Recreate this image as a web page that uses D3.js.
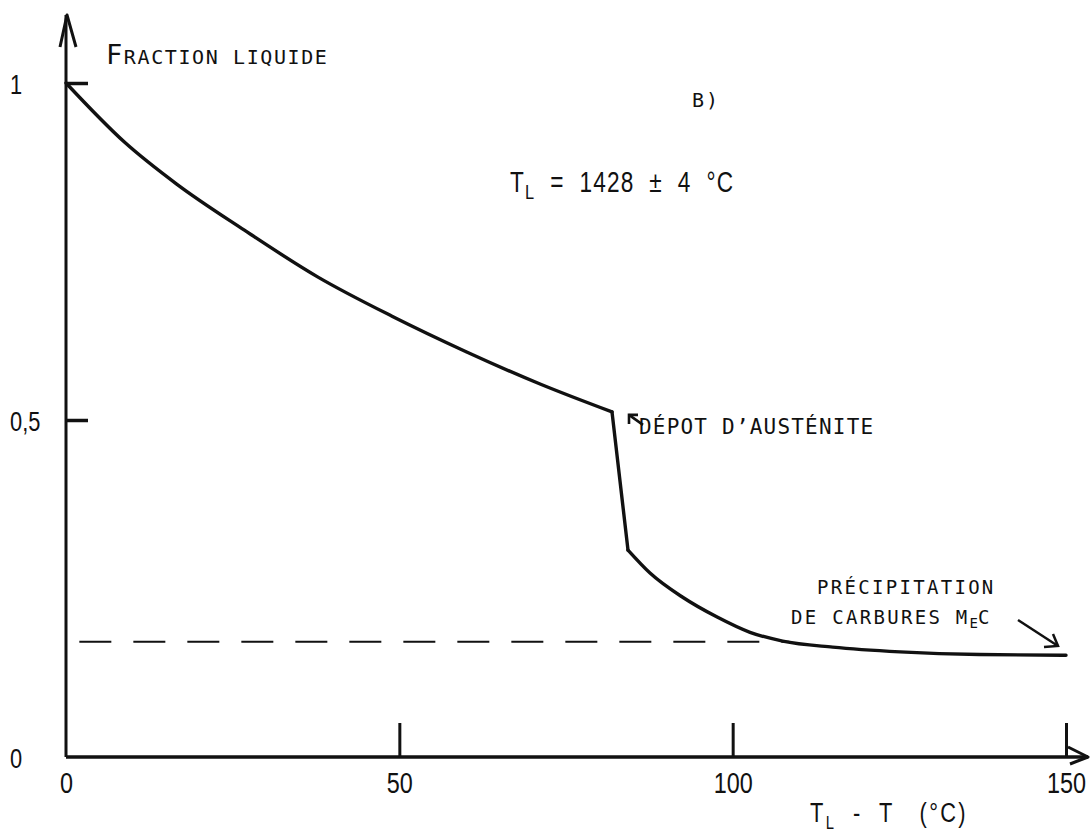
<!DOCTYPE html>
<html>
<head>
<meta charset="utf-8">
<script src="https://cdn.jsdelivr.net/npm/d3@7/dist/d3.min.js"></script>
<style>
  html, body { margin: 0; padding: 0; background: #fff; }
  svg { display: block; }
  .num { font-family: "Liberation Sans", Arial, sans-serif; fill: #111; }
  .mono { font-family: "DejaVu Sans Mono", "Liberation Mono", monospace; fill: #111; }
</style>
</head>
<body>
<svg id="chart" width="1090" height="834"></svg>
<script>
// ---- data ----
const upperX = [0, 8.8, 16.6, 26.7, 37.8, 48.9, 60.1, 71.2, 81.9];
const upperY = [1.0, 0.912, 0.850, 0.782, 0.712, 0.654, 0.601, 0.553, 0.512];
const dropX = [81.9, 84.3];
const dropY = [0.512, 0.307];
const lowerX = [84.3, 87.6, 92.5, 97.6, 102.6, 107.5, 115.0, 125.1, 137.0, 150.0];
const lowerY = [0.307, 0.273, 0.237, 0.208, 0.185, 0.172, 0.163, 0.156, 0.152, 0.151];
const dashedX = [2, 108.5];
const dashedY = [0.171, 0.171];
const xTicks = [0, 50, 100, 150];
const xTickLabels = ["0", "50", "100", "150"];
const yTicks = [0, 0.5, 1];
const yTickLabels = ["0", "0,5", "1"];

const svg = d3.select("#chart");
const x = d3.scaleLinear().domain([0, 150]).range([66, 1066]);
const y = d3.scaleLinear().domain([0, 1]).range([757, 83]);

const ink = "#111";
const sx = 0.78;

// ---- axes lines with arrows ----
svg.append("line").attr("x1", x(0)).attr("y1", y(0)).attr("x2", x(0)).attr("y2", y(1) - 68)
  .attr("stroke", ink).attr("stroke-width", 3);
svg.append("path")
  .attr("d", `M${x(0) - 6},${y(1) - 36} L${x(0) + 1},${y(1) - 68} L${x(0) + 10},${y(1) - 36}`)
  .attr("fill", "none").attr("stroke", ink).attr("stroke-width", 3).attr("stroke-linejoin", "round");

svg.append("line").attr("x1", x(0)).attr("y1", y(0)).attr("x2", x(150) + 22).attr("y2", y(0))
  .attr("stroke", ink).attr("stroke-width", 3.5);
svg.append("path")
  .attr("d", `M${x(150) + 2},${y(0) - 10} L${x(150) + 22},${y(0)} L${x(150) + 4},${y(0) + 7}`)
  .attr("fill", "none").attr("stroke", ink).attr("stroke-width", 3).attr("stroke-linejoin", "round");

// ---- x axis ticks ----
const xAxis = d3.axisBottom(x).tickValues(xTicks)
  .tickFormat((d, i) => xTickLabels[i]).tickSizeInner(-34).tickSizeOuter(0).tickPadding(14);
const gx = svg.append("g").attr("transform", `translate(0,${y(0)})`).call(xAxis);
gx.select(".domain").remove();
gx.selectAll(".tick line").attr("stroke", ink).attr("stroke-width", 3)
  .attr("opacity", d => d === 0 ? 0 : 1);
gx.selectAll(".tick text").attr("class", "num").attr("font-size", 30).attr("fill", ink)
  .attr("font-family", null).attr("dy", "0.72em").attr("transform", `scale(${sx},1)`);

// ---- y axis ticks ----
const yAxis = d3.axisLeft(y).tickValues(yTicks)
  .tickFormat((d, i) => yTickLabels[i]).tickSizeInner(-22).tickSizeOuter(0);
const gy = svg.append("g").attr("transform", `translate(${x(0)},0)`).call(yAxis);
gy.select(".domain").remove();
gy.selectAll(".tick line").attr("stroke", ink).attr("stroke-width", 3.5)
  .attr("opacity", d => d === 0 ? 0 : 1);
gy.selectAll(".tick text").attr("class", "num").attr("font-size", 28).attr("fill", ink)
  .attr("font-family", null).attr("text-anchor", "start").attr("x", -56 / sx).attr("dy", "0.36em")
  .attr("transform", `scale(${sx},1)`);

// ---- dashed line ----
svg.append("path")
  .datum(dashedX.map((d, i) => [d, dashedY[i]]))
  .attr("d", d3.line().x(d => x(d[0])).y(d => y(d[1])))
  .attr("fill", "none").attr("stroke", ink).attr("stroke-width", 2)
  .attr("stroke-dasharray", "32,22");

// ---- main curve (three pieces) ----
const segs = [[upperX, upperY, d3.curveMonotoneX], [dropX, dropY, d3.curveLinear], [lowerX, lowerY, d3.curveMonotoneX]];
segs.forEach(([xs, ys, c]) => {
  svg.append("path")
    .datum(xs.map((d, i) => [d, ys[i]]))
    .attr("d", d3.line().x(d => x(d[0])).y(d => y(d[1])).curve(c))
    .attr("fill", "none").attr("stroke", ink).attr("stroke-width", 3.4)
    .attr("stroke-linejoin", "round").attr("stroke-linecap", "round");
});

// ---- texts ----
const t1 = svg.append("text").attr("class", "mono").attr("x", 106).attr("y", 64).attr("letter-spacing", 1.6);
t1.append("tspan").attr("font-size", 27).text("F");
t1.append("tspan").attr("font-size", 20).text("RACTION LIQUIDE");

svg.append("text").attr("class", "mono").attr("x", 692).attr("y", 107).attr("font-size", 20)
  .attr("letter-spacing", 2).text("B)");

const tl = svg.append("text").attr("class", "num").attr("transform", `translate(510,192) scale(${sx},1)`)
  .attr("font-size", 29).attr("letter-spacing", 1.5).attr("xml:space", "preserve");
tl.append("tspan").text("T");
tl.append("tspan").attr("font-size", 21).attr("dy", 7).text("L");
tl.append("tspan").attr("dy", -7).text("  =  1428  ±  4  °C");

// arrow for Dépôt
const kx = x(84.3), ky = y(0.512);
svg.append("path")
  .attr("d", `M${kx + 15},${ky + 13} L${kx + 1},${ky + 3}`)
  .attr("stroke", ink).attr("stroke-width", 2.6).attr("fill", "none");
svg.append("path")
  .attr("d", `M${kx + 1},${ky + 12} L${kx + 1},${ky + 3} L${kx + 10},${ky + 3}`)
  .attr("stroke", ink).attr("stroke-width", 2.6).attr("fill", "none");
svg.append("text").attr("class", "mono").attr("x", 639).attr("y", 434).attr("font-size", 21)
  .attr("letter-spacing", 1.2).text("DÉPOT D’AUSTÉNITE");

svg.append("text").attr("class", "mono").attr("x", 817).attr("y", 594).attr("font-size", 19)
  .attr("letter-spacing", 2.3).text("PRÉCIPITATION");
const t2 = svg.append("text").attr("class", "mono").attr("x", 791).attr("y", 624).attr("font-size", 19)
  .attr("letter-spacing", 2.3);
t2.append("tspan").text("DE CARBURES M");
t2.append("tspan").attr("font-size", 14).attr("dy", 4).attr("letter-spacing", 0).text("E");
t2.append("tspan").attr("dy", -4).text("C");

// arrow for precipitation
svg.append("path")
  .attr("d", `M1018,620 L1058,646`)
  .attr("stroke", ink).attr("stroke-width", 2.5).attr("fill", "none");
svg.append("path")
  .attr("d", `M1044,647 L1058,646 L1053,634`)
  .attr("stroke", ink).attr("stroke-width", 2.5).attr("fill", "none");

// x axis title
const xt = svg.append("text").attr("class", "num").attr("transform", `translate(810,822) scale(${sx},1)`)
  .attr("font-size", 28).attr("letter-spacing", 3).attr("xml:space", "preserve");
xt.append("tspan").text("T");
xt.append("tspan").attr("font-size", 19).attr("dy", 7).text("L");
xt.append("tspan").attr("dy", -7).text("  -  T   (°C)");
</script>
</body>
</html>
